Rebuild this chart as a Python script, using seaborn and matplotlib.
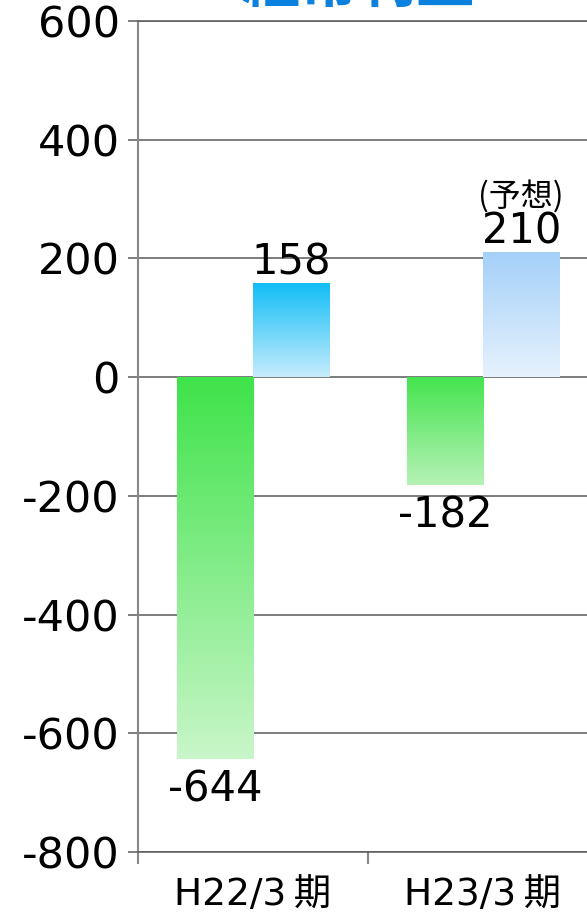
import numpy as np
import pandas as pd
import matplotlib
matplotlib.use("Agg")
import matplotlib.pyplot as plt
import seaborn as sns
from matplotlib.colors import LinearSegmentedColormap

# ---- data ----
categories = ["H22/3\u2009期", "H23/3\u2009期"]
green_values = [-644, -182]
blue_values = [158, 210]
blue_notes = ["", "(予想)"]
y_ticks = [-800, -600, -400, -200, 0, 200, 400, 600]
title = "経常利益"

sns.set_theme(style="white")
plt.rcParams['font.family'] = ['DejaVu Sans', 'Noto Sans CJK JP']

df = pd.DataFrame({
    "category": categories * 2,
    "series": ["green"] * 2 + ["blue"] * 2,
    "value": green_values + blue_values,
})

fig = plt.figure(figsize=(5.87, 9.13), dpi=100)
ax = fig.add_axes([138 / 587, 61 / 913, 460 / 587, 831 / 913])

sns.barplot(data=df, x="category", y="value", hue="series",
            hue_order=["green", "blue"], palette={"green": "#44e44e", "blue": "#12bdf6"},
            width=0.665, dodge=True, legend=False, ax=ax, zorder=2, errorbar=None)

ax.set_xlim(-0.5, 1.5)
ax.set_ylim(-800, 600)
ax.set_yticks(y_ticks)
ax.set_yticklabels([str(v) for v in y_ticks])
ax.set_xlabel("")
ax.set_ylabel("")

grid_c = "#5a5a5a"
ax.yaxis.grid(True, color=grid_c, lw=1.1, zorder=0)
ax.set_axisbelow(True)
ax.spines["right"].set_visible(False)
for s in ["top", "bottom"]:
    ax.spines[s].set_color(grid_c)
    ax.spines[s].set_linewidth(1.1)
ax.spines["left"].set_color("#888888")
ax.spines["left"].set_linewidth(1.5)

ax.tick_params(axis="y", which="major", direction="out", length=7.2, width=1.1,
               color=grid_c, labelsize=31, pad=6, left=True, labelcolor="#000000")
ax.set_xticks([-0.5, 0.5, 1.5], minor=True)
ax.tick_params(axis="x", which="minor", direction="out", length=8.6, width=1.5,
               color="#888888", bottom=True)
ax.tick_params(axis="x", which="major", length=0, labelsize=27, pad=18,
               labelcolor="#000000")

# gradients
grads = {
    ("green", 0): ("#3fe34a", "#c9f6c9"),
    ("green", 1): ("#44e44e", "#b6f2b6"),
    ("blue", 0): ("#12bdf6", "#c6ecfc"),
    ("blue", 1): ("#a4d0f8", "#e6f2fd"),
}
bars = {}
for p in list(ax.patches):
    x0, y0, w, h = p.get_x(), p.get_y(), p.get_width(), p.get_height()
    if w == 0 or h == 0:
        continue
    ser = "green" if h < 0 else "blue"
    cat = int(round(x0 + w / 2))
    bars[(ser, cat)] = p
    top_c, bot_c = grads[(ser, cat)]
    cmap = LinearSegmentedColormap.from_list("g", [bot_c, top_c])
    ylo, yhi = min(y0, y0 + h), max(y0, y0 + h)
    grad = np.linspace(1, 0, 256).reshape(-1, 1)
    im = ax.imshow(grad, cmap=cmap, aspect="auto", extent=[x0, x0 + w, ylo, yhi],
                   origin="upper", zorder=2, interpolation="bicubic")
    im.set_clip_path(p)
    p.set_facecolor("none")
    p.set_edgecolor("none")

ax.set_xlim(-0.5, 1.5)
ax.set_ylim(-800, 600)

for i in range(len(categories)):
    p = bars[("green", i)]
    ax.annotate(str(green_values[i]), (p.get_x() + p.get_width() / 2, green_values[i]),
                xytext=(0, -6.5), textcoords="offset points", ha="center", va="top",
                fontsize=30, color="#000000", zorder=5)
    p = bars[("blue", i)]
    ax.annotate(str(blue_values[i]), (p.get_x() + p.get_width() / 2, blue_values[i]),
                xytext=(0, 6.5), textcoords="offset points", ha="center", va="baseline",
                fontsize=30, color="#000000", zorder=5)
    if blue_notes[i]:
        ax.annotate(blue_notes[i], (p.get_x() + p.get_width() / 2, blue_values[i]),
                    xytext=(0, 33.5), textcoords="offset points", ha="center", va="baseline",
                    fontsize=23, color="#000000", zorder=5,
                    family=['Noto Sans CJK JP', 'DejaVu Sans'])

fig.text(358 / 587, 1 - 3 / 913, title, ha="center", va="baseline", fontsize=42,
         fontweight="bold", color="#0a80df", family=['Noto Sans CJK JP', 'DejaVu Sans'])

fig.savefig("out.png", dpi=100)
